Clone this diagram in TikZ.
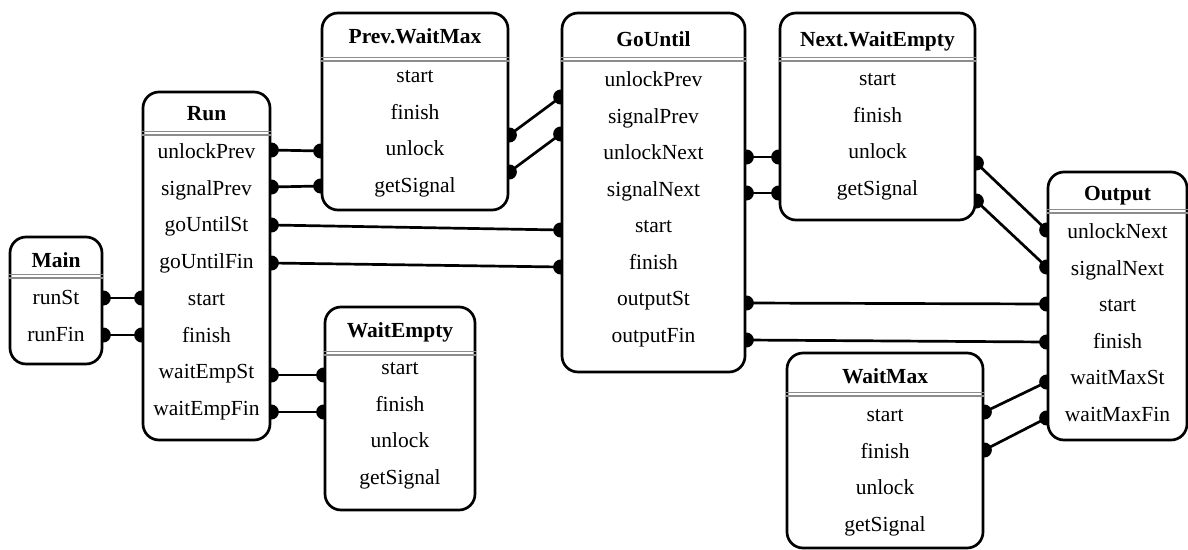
\documentclass[tikz,border=0pt]{standalone}
\usepackage{fontspec}
\setmainfont{Liberation Serif}
\pgfdeclarelayer{bg}
\pgfsetlayers{bg,main}
\tikzset{
  box/.style={draw, line width=2.7pt, rounded corners=16pt, fill=white, inner sep=0pt},
  lbl/.style={font=\fontsize{21.5}{25}\selectfont, inner sep=0pt, text height=14pt, text depth=4pt, yshift=-1.5pt},
  ttl/.style={font=\fontsize{21.5}{25}\selectfont\bfseries, inner sep=0pt, text height=14pt, text depth=4pt},
  sepline/.style={draw=black!45, line width=1.3pt},
  wire/.style={line width=2.7pt},
  pdot/.style={fill=black, draw=none, circle, inner sep=0pt, minimum size=15pt}
}
\newcommand\sepdbl[2]{%
  \draw[sepline] (#1.west|-0,#2) -- (#1.east|-0,#2);
  \draw[sepline] ([yshift=-3.5pt]#1.west|-0,#2) -- ([yshift=-3.5pt]#1.east|-0,#2);}
\begin{document}
\begin{tikzpicture}[x=1pt,y=-1pt]
\useasboundingbox (0,0) rectangle (1188,549);
% boxes
\node[box, minimum width=92pt, minimum height=127pt] (main) at (56,300.5) {};
\node[box, minimum width=127pt, minimum height=348pt] (run) at (206.5,266) {};
\node[box, minimum width=186pt, minimum height=197pt] (pwm) at (415,111.5) {};
\node[box, minimum width=183pt, minimum height=359pt] (gou) at (653.5,192.5) {};
\node[box, minimum width=195pt, minimum height=207pt] (nwe) at (877.5,116.5) {};
\node[box, minimum width=139pt, minimum height=268pt] (out) at (1117.5,306) {};
\node[box, minimum width=196pt, minimum height=195pt] (wmx) at (885,450.5) {};
\node[box, minimum width=150pt, minimum height=203pt] (wem) at (400,408.5) {};
% titles
\node[ttl] (main-t) at (56,262) {Main};
\node[ttl] (run-t) at (206.5,115) {Run};
\node[ttl] (pwm-t) at (415,38) {Prev.WaitMax};
\node[ttl] (gou-t) at (653.5,41) {GoUntil};
\node[ttl] (nwe-t) at (877.5,41) {Next.WaitEmpty};
\node[ttl] (out-t) at (1117.5,195) {Output};
\node[ttl] (wmx-t) at (885,378) {WaitMax};
\node[ttl] (wem-t) at (400,332) {WaitEmpty};
% separators
\sepdbl{main}{274.5}
\sepdbl{run}{131.5}
\sepdbl{pwm}{57.5}
\sepdbl{gou}{57.5}
\sepdbl{nwe}{57.5}
\sepdbl{out}{209.5}
\sepdbl{wmx}{392.5}
\sepdbl{wem}{351.5}
% rows
\foreach \t [count=\i] in {runSt,runFin}
  \node[lbl] (main-\i) at (56,298+36.8*\i-36.8) {\t};
\foreach \t [count=\i] in {unlockPrev,signalPrev,goUntilSt,goUntilFin,start,finish,waitEmpSt,waitEmpFin}
  \node[lbl] (run-\i) at (206.5,152+36.7*\i-36.7) {\t};
\foreach \t [count=\i] in {start,finish,unlock,getSignal}
  \node[lbl] (pwm-\i) at (415,76+36.7*\i-36.7) {\t};
\foreach \t [count=\i] in {unlockPrev,signalPrev,unlockNext,signalNext,start,finish,outputSt,outputFin}
  \node[lbl] (gou-\i) at (653.5,80+36.5*\i-36.5) {\t};
\foreach \t [count=\i] in {start,finish,unlock,getSignal}
  \node[lbl] (nwe-\i) at (877.5,79+36.7*\i-36.7) {\t};
\foreach \t [count=\i] in {unlockNext,signalNext,start,finish,waitMaxSt,waitMaxFin}
  \node[lbl] (out-\i) at (1117.5,232+36.6*\i-36.6) {\t};
\foreach \t [count=\i] in {start,finish,unlock,getSignal}
  \node[lbl] (wmx-\i) at (885,415+36.7*\i-36.7) {\t};
\foreach \t [count=\i] in {start,finish,unlock,getSignal}
  \node[lbl] (wem-\i) at (400,368+36.5*\i-36.5) {\t};
% connectors
\begin{pgfonlayer}{bg}
\foreach \a/\ya/\b/\yb in {
  main/298/run/298, main/335/run/335,
  run/150/pwm/151, run/187/pwm/186,
  run/225/gou/230, run/263/gou/267,
  run/375/wem/375, run/412/wem/412,
  pwm/135/gou/97, pwm/172/gou/134,
  gou/157/nwe/157, gou/193/nwe/193,
  nwe/163/out/230, nwe/201/out/267,
  gou/303/out/304, gou/340/out/342,
  wmx/412/out/382, wmx/450/out/418}{
  \draw[wire] (\a.east|-0,\ya) -- (\b.west|-0,\yb);
  \node[pdot] at (\a.east|-0,\ya) {};
  \node[pdot] at (\b.west|-0,\yb) {};
}
\end{pgfonlayer}
\end{tikzpicture}
\end{document}
